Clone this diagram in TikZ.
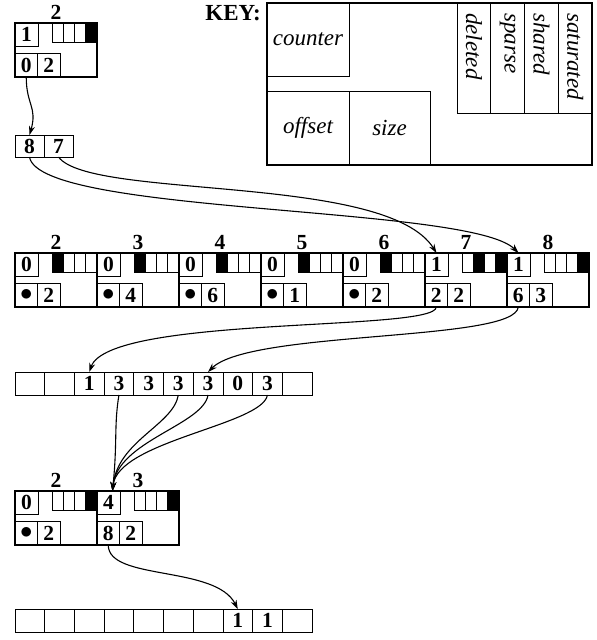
\documentclass[tikz,border=0pt]{standalone}
\usepackage{fontspec}
\setmainfont{Liberation Serif}
\usetikzlibrary{calc,arrows.meta}
\tikzset{
  cell/.style={draw,line width=0.8pt,inner sep=0pt,outer sep=0pt,font=\bfseries\fontsize{21.5}{24}\selectfont},
  flagc/.style={draw,line width=0.8pt,inner sep=0pt,outer sep=0pt,minimum width=11.2pt,minimum height=19pt},
  frame/.style={line width=2.4pt},
  blk/.style={inner sep=0pt,outer sep=0pt,minimum width=82pt,minimum height=54pt,anchor=north west},
  lbl/.style={font=\bfseries\fontsize{21.5}{24}\selectfont,anchor=base,inner sep=0pt},
  keyc/.style={draw,line width=0.8pt,inner sep=0pt,outer sep=0pt,font=\itshape\fontsize{23}{27}\selectfont},
  ptr/.style={line width=1.1pt,-{Stealth[length=9pt,width=6pt]}}
}
\newcommand{\bul}{\scalebox{1.2}{$\bullet$}}
% block: name, top-left corner, label, counter, offset, size, flag fills
\newcommand{\mkblock}[7]{%
  \node[blk] (#1) at (#2) {};
  \node[lbl] (#1-l) at ($(#1.north)+(0,-4)$) {#3};
  \node[cell,anchor=north west,minimum width=23pt,minimum height=23pt] (#1-c) at (#1.north west) {#4};
  \node[cell,anchor=south west,minimum width=22.5pt,minimum height=24pt] (#1-o) at (#1.south west) {#5};
  \node[cell,anchor=south west,minimum width=22.5pt,minimum height=24pt] (#1-s) at (#1-o.south east) {#6};
  \foreach \f [count=\k] in {#7}
    \node[flagc,fill=\f,anchor=north east] (#1-f\k) at ($(#1.north east)+({(\k-4)*11.2},0)$) {};
  \draw[frame] (#1.north west) rectangle (#1.south east);
}

\begin{document}
\begin{tikzpicture}[x=1pt,y=-1pt]
\useasboundingbox (0,0) rectangle (597,640);

% key
\node[font=\bfseries\fontsize{23}{27}\selectfont,anchor=base east,inner sep=0pt] (keyl) at (261,20) {KEY:};
\node[draw,frame,inner sep=0pt,outer sep=0pt,minimum width=325pt,minimum height=162pt,anchor=north west] (key) at (267,3) {};
\node[keyc,anchor=north west,minimum width=82pt,minimum height=73pt] (k-c) at (key.north west) {counter};
\node[keyc,anchor=south west,minimum width=82pt,minimum height=74pt] (k-o) at (key.south west) {offset};
\node[keyc,anchor=south west,minimum width=81pt,minimum height=74pt] (k-s) at (k-o.south east) {size};
\foreach \t [count=\k] in {deleted,sparse,shared,saturated}{
  \node[keyc,anchor=north west,minimum width=33.75pt,minimum height=110pt] (k-f\k) at ({457+33.75*(\k-1)},3) {};
  \node[font=\itshape\fontsize{23}{27}\selectfont,rotate=-90,anchor=west,inner sep=0pt] (k-t\k) at ($(k-f\k.north)+(0,10)$) {\t};
}
\draw[frame] (key.north west) rectangle (key.south east);

% top block and pointer pair
\mkblock{t2}{15,23}{2}{1}{0}{2}{white,white,white,black}
\node[cell,anchor=north west,minimum width=29pt,minimum height=22pt] (p8) at (15,135) {8};
\node[cell,anchor=north west,minimum width=29pt,minimum height=22pt] (p7) at (p8.north east) {7};

% row of blocks
\mkblock{r2}{15,253}{2}{0}{\bul}{2}{black,white,white,white}
\mkblock{r3}{97,253}{3}{0}{\bul}{4}{black,white,white,white}
\mkblock{r4}{179,253}{4}{0}{\bul}{6}{black,white,white,white}
\mkblock{r5}{261,253}{5}{0}{\bul}{1}{black,white,white,white}
\mkblock{r6}{343,253}{6}{0}{\bul}{2}{black,white,white,white}
\mkblock{r7}{425,253}{7}{1}{2}{2}{white,black,white,black}
\mkblock{r8}{507,253}{8}{1}{6}{3}{white,white,white,black}

% first array
\foreach \v [count=\i from 0] in {{},{},1,3,3,3,3,0,3,{}}
  \node[cell,anchor=north west,minimum width=29.7pt,minimum height=23pt] (ar\i) at ({15+29.7*\i},372) {\v};

% bottom blocks
\mkblock{q2}{15,491}{2}{0}{\bul}{2}{white,white,white,black}
\mkblock{q3}{97,491}{3}{4}{8}{2}{white,white,white,black}
\coordinate (q3tip) at ($(q3-c.north)+(4,0)$);

% last array
\foreach \v [count=\i from 0] in {{},{},{},{},{},{},{},1,1,{}}
  \node[cell,anchor=north west,minimum width=29.7pt,minimum height=23pt] (br\i) at ({15+29.7*\i},609) {\v};

% pointers
\draw[ptr] (t2-o.south) .. controls ($(t2-o.south)+(0,28)$) and ($(p8.north)+(8,-28)$) .. (p8.north);
\draw[ptr] (p8.south) .. controls ($(p8.south)+(10,58)$) and ($(r8-c.north)+(-48,-48)$) .. (r8-c.north);
\draw[ptr] (p7.south) .. controls ($(p7.south)+(32,43)$) and ($(r7-c.north)+(-50,-80)$) .. (r7-c.north);
\draw[ptr] (r7-o.south) .. controls ($(r7-o.south)+(0,25)$) and ($(ar2.north)+(20,-57)$) .. (ar2.north);
\draw[ptr] (r8-o.south) .. controls ($(r8-o.south)+(-3,35)$) and ($(ar6.north)+(42,-42)$) .. (ar6.north);
\foreach \i in {3,5,6,8}
  \draw[ptr] (ar\i.south) .. controls ($(ar\i.south)+(-5,30)$) and ($(q3tip)+(5,-50)$) .. (q3tip);
\draw[ptr] (q3-o.south) .. controls ($(q3-o.south)+(0,36)$) and ($(br7.north)+(-22,-44)$) .. (br7.north);
\end{tikzpicture}
\end{document}
